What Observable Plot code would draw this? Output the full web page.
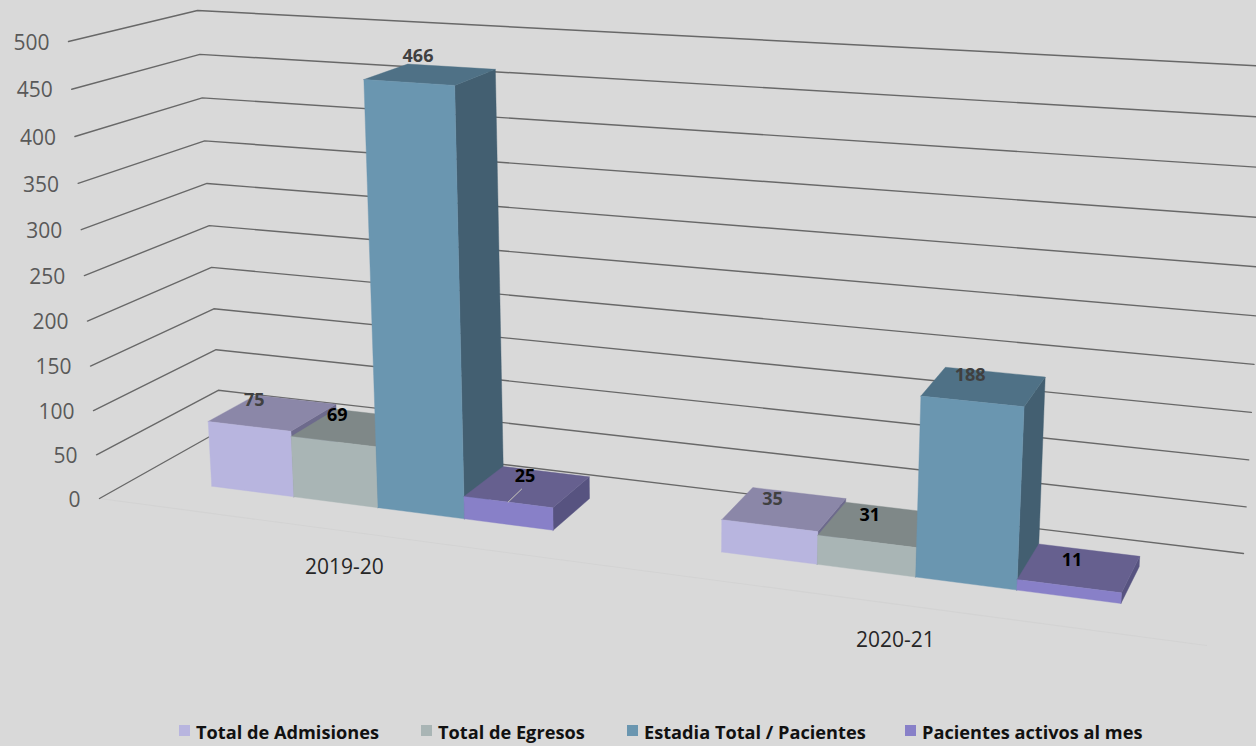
<!DOCTYPE html>
<html><head><meta charset="utf-8">
<script src="https://cdn.jsdelivr.net/npm/d3@7"></script>
<script src="https://cdn.jsdelivr.net/npm/@observablehq/plot@0.6"></script>
<style>
html,body{margin:0;padding:0;background:#d9d9d9;overflow:hidden}
#chart svg{display:block;background:#d9d9d9}
#legend{position:relative;height:30px;font:700 18.2px "Open Sans",sans-serif;color:#111}
#legend span.k{position:absolute;top:9px;width:11px;height:11px}
#legend span.t{position:absolute;top:4px;white-space:nowrap;line-height:24px}
</style></head><body>
<div id="chart"></div><div id="legend"></div>
<script>
const categories = ["2019-20", "2020-21"];
const series = ["Total de Admisiones", "Total de Egresos", "Estadia Total / Pacientes", "Pacientes activos al mes"];
const admisiones = [75, 35];
const egresos = [69, 31];
const estadia = [466, 188];
const activos = [25, 11];
const valueTicks = [0, 50, 100, 150, 200, 250, 300, 350, 400, 450, 500];
const frontColors = ["#b8b5df", "#a9b5b5", "#6a96b0", "#8880c8"];
const topColors = ["#8b87a8", "#7f8888", "#4f7186", "#66608f"];
const sideColors = ["#6d6a8c", "#5f6969", "#435f71", "#575380"];
const labelColors = ["#404040", "#000000", "#404040", "#000000"];
const legendLeft = [179, 421, 627, 905];

const W = 1256, H = 716, maxV = 500;
const values = [admisiones, egresos, estadia, activos];

// Perspective box of the 3D chart: floor and top corners of the plotting cube.
const box = {
  fl: {x: 99, y: 498, lx: -31, h: 457},
  bl: {x: 220, y: 430, lx: -23, h: 420},
  br: {x: 1243, y: 553, lx: 27, h: 487},
  fr: {x: 1206, y: 645, lx: 33, h: 530}
};
const persp = (t, k) => t / (t + k * (1 - t));
const mix = (a, b, t) => a + (b - a) * t;
function project(t, value, w) {
  const u = persp(t, 1.17), g = persp(value / maxV, 1.05);
  const at = (key) => mix(mix(box.fl[key], box.bl[key], w), mix(box.fr[key], box.br[key], w), u);
  return {x: at("x") + at("lx") * g, y: at("y") - at("h") * g};
}
const W0 = 0.32, W1 = 0.73;
const barStart = (c, s) => c * 0.5 + 0.0787 + s * 0.0858;
const barEnd = (c, s) => barStart(c, s) + 0.0858;
const barMid = (c, s) => barStart(c, s) + 0.0429;

const marks = [];
const line = (pts, o) => marks.push(Plot.line(pts, {x: "x", y: "y", ...o}));

// floor front edge
line([project(0, 0, 0), project(1, 0, 0)], {stroke: "#d3d3d3", strokeWidth: 1.2});

// walls' gridlines
for (const v of valueTicks) {
  line([project(0, v, 0), project(0, v, 1), project(1, v, 1)], {stroke: "#686868", strokeWidth: 1.4});
}

// bars: left to right so nearer faces overlap correctly
categories.forEach((cat, c) => {
  series.forEach((name, s) => {
    const v = values[s][c], a = barStart(c, s), b = barEnd(c, s);
    const poly = (pts, col) => line([...pts, pts[0]], {fill: col, stroke: col, strokeWidth: 0.4});
    poly([project(b, 0, W0), project(b, 0, W1), project(b, v, W1), project(b, v, W0)], sideColors[s]);
    poly([project(a, v, W0), project(b, v, W0), project(b, v, W1), project(a, v, W1)], topColors[s]);
    poly([project(a, 0, W0), project(b, 0, W0), project(b, v, W0), project(a, v, W0)], frontColors[s]);
  });
});

// leader line of the moved "25" label
const p25 = project(barMid(0, 3), activos[0], W0);
line([p25, {x: p25.x + 13.5, y: p25.y - 13}], {stroke: "#c9c9bd", strokeWidth: 1});

// data labels; a few sit off the centre of their bar in the original
const labelShift = {"0:0": 2, "0:1": 1, "0:2": 6, "1:2": -5, "0:3": 14};
const labels = [];
categories.forEach((cat, c) => series.forEach((name, s) => {
  const v = values[s][c], p = project(barMid(c, s), v, W0);
  labels.push({x: p.x + (labelShift[c + ":" + s] || 0), y: p.y, text: String(v), color: labelColors[s]});
}));
for (const col of labelColors.filter((d, i, a) => a.indexOf(d) === i)) {
  marks.push(Plot.text(labels.filter(d => d.color === col), {
    x: "x", y: "y", text: "text", dx: 3, dy: -26,
    fill: col, fontSize: 18, fontWeight: 700, fontFamily: "Open Sans", textAnchor: "middle"
  }));
}

// value axis labels
marks.push(Plot.text(valueTicks.map(v => ({...project(0, v, 0), text: String(v)})), {
  x: "x", y: "y", text: "text", dx: -19, dy: 1.5, textAnchor: "end",
  fill: "#595959", fontSize: 21, fontFamily: "Open Sans"
}));

// category labels
marks.push(Plot.text(categories.map((cat, c) => ({...project(c * 0.5 + 0.25, 0, 0), text: cat})), {
  x: "x", y: "y", text: "text", dx: -0.5, dy: 36,
  fill: "#262626", fontSize: 21, fontFamily: "Open Sans"
}));

const chart = Plot.plot({
  width: W, height: H, margin: 0,
  x: {domain: [0, W], range: [0, W], axis: null},
  y: {domain: [0, H], range: [0, H], axis: null},
  style: {background: "#d9d9d9"},
  marks
});
document.getElementById("chart").append(chart);

const lg = document.getElementById("legend");
series.forEach((name, i) => {
  const k = document.createElement("span");
  k.className = "k"; k.style.left = legendLeft[i] + "px"; k.style.background = frontColors[i];
  const t = document.createElement("span");
  t.className = "t"; t.style.left = (legendLeft[i] + 17) + "px"; t.textContent = name;
  lg.append(k, t);
});
</script>
</body></html>
